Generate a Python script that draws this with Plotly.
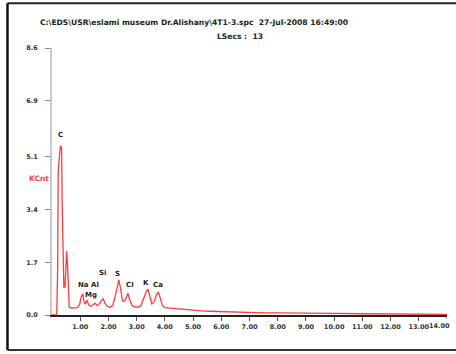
import plotly.graph_objects as go

# Spectrum (energy in keV, counts in KCnt)
energy_kev = [0.00, 0.15, 0.17, 0.20, 0.22, 0.24, 0.27, 0.30, 0.34, 0.36, 0.38, 0.40,
              0.42, 0.46, 0.50, 0.52, 0.55, 0.58, 0.61, 0.70, 0.80, 0.90, 0.98, 1.04,
              1.09, 1.13, 1.18, 1.24, 1.30, 1.38, 1.46, 1.52, 1.60, 1.68, 1.76, 1.81,
              1.88, 1.96, 2.05, 2.15, 2.24, 2.31, 2.37, 2.43, 2.50, 2.58, 2.64, 2.69,
              2.75, 2.84, 2.95, 3.05, 3.15, 3.25, 3.35, 3.40, 3.46, 3.54, 3.62, 3.70,
              3.77, 3.84, 3.92, 4.00, 4.20, 4.50, 4.80, 5.00, 5.30, 5.60, 5.90, 6.20,
              6.40, 6.60, 7.00, 7.50, 8.00, 8.50, 9.00, 9.50, 10.0, 11.0, 12.0, 13.0, 14.0]
counts_kcnt = [0.00, 0.00, 0.05, 1.50, 4.60, 5.00, 5.20, 5.45, 5.40, 3.60, 2.50, 2.30,
               0.90, 0.90, 1.70, 2.05, 1.60, 0.60, 0.25, 0.22, 0.22, 0.24, 0.35, 0.60,
               0.68, 0.45, 0.35, 0.48, 0.32, 0.28, 0.33, 0.38, 0.30, 0.36, 0.48, 0.52,
               0.38, 0.28, 0.25, 0.30, 0.60, 0.95, 1.13, 0.85, 0.45, 0.45, 0.62, 0.70,
               0.50, 0.30, 0.26, 0.25, 0.30, 0.55, 0.78, 0.83, 0.60, 0.35, 0.42, 0.65,
               0.74, 0.55, 0.30, 0.24, 0.22, 0.20, 0.17, 0.15, 0.13, 0.12, 0.11, 0.10,
               0.11, 0.09, 0.08, 0.07, 0.07, 0.06, 0.06, 0.05, 0.05, 0.04, 0.03, 0.03, 0.02]

# Element labels
elem_text = ["C", "Si", "S", "Na Al", "Mg", "Cl", "K", "Ca"]
elem_x = [0.30, 1.80, 2.33, 1.30, 1.39, 2.75, 3.32, 3.75]
elem_y = [5.80, 1.35, 1.33, 0.96, 0.66, 0.96, 1.04, 0.96]

x_tick_vals = [1, 2, 3, 4, 5, 6, 7, 8, 9, 10, 11, 12, 13]
x_tick_text = ["1.00", "2.00", "3.00", "4.00", "5.00", "6.00", "7.00", "8.00",
               "9.00", "10.00", "11.00", "12.00", "13.00"]
x_last_tick = 14
x_last_text = "14.00"
y_tick_vals = [0.0, 1.7, 3.4, 5.1, 6.9, 8.6]
y_tick_text = ["0.0", "1.7", "3.4", "5.1", "6.9", "8.6"]

title_line1 = "C:\\EDS\\USR\\eslami museum Dr.Alishany\\4T1-3.spc  27-Jul-2008 16:49:00"
title_line2 = "LSecs :  13"

fig = go.Figure()
fig.add_trace(go.Scatter(x=energy_kev, y=counts_kcnt, mode="lines",
                         line=dict(color="#ff3b3b", width=1.3), hoverinfo="skip"))

FONT = "DejaVu Sans"
for t, x, y in zip(elem_text, elem_x, elem_y):
    fig.add_annotation(x=x, y=y, text="<b>" + t + "</b>", showarrow=False,
                       font=dict(family=FONT, size=7, color="#222222"))

fig.add_annotation(xref="paper", yref="paper", x=0.36, y=1.12, text="<b>" + title_line1 + "</b>",
                   showarrow=False, font=dict(family=FONT, size=7.6, color="#222222"))
fig.add_annotation(xref="paper", yref="paper", x=0.475, y=1.068, text="<b>" + title_line2 + "</b>",
                   showarrow=False, font=dict(family=FONT, size=7.6, color="#222222"))
fig.add_annotation(xref="paper", yref="paper", x=-0.002, y=0.513, xanchor="right",
                   text="<b>KCnt</b>", showarrow=False,
                   font=dict(family=FONT, size=7.5, color="#ff3b3b"))
# last x tick label, kept inside the page
fig.add_annotation(x=x_last_tick, xref="x", yref="paper", y=0, yanchor="top", yshift=-5,
                   xanchor="right", xshift=5,
                   text="<b>" + x_last_text + "</b>", showarrow=False,
                   font=dict(family=FONT, size=6.5, color="#333333"))
fig.add_shape(type="line", xref="x", yref="paper", x0=x_last_tick, x1=x_last_tick, y0=0, y1=-0.015,
              line=dict(color="#555555", width=1))

# outer frame
fig.add_shape(type="line", xref="paper", yref="paper", x0=-0.1127, x1=-0.1127, y0=-0.131, y1=1.168,
              line=dict(color="#111111", width=2.5))
fig.add_shape(type="line", xref="paper", yref="paper", x0=-0.1127, x1=1.05, y0=1.168, y1=1.168,
              line=dict(color="#222222", width=2))
fig.add_shape(type="line", xref="paper", yref="paper", x0=-0.1127, x1=1.05, y0=-0.131, y1=-0.131,
              line=dict(color="#333333", width=2))

fig.update_layout(
    width=456, height=354,
    margin=dict(l=52, r=9, t=48, b=39),
    paper_bgcolor="white", plot_bgcolor="white",
    showlegend=False,
    xaxis=dict(range=[0, 14], tickvals=x_tick_vals, ticktext=x_tick_text,
               ticks="outside", ticklen=4, tickcolor="#555555", showgrid=False, zeroline=False,
               showline=True, linecolor="#222222", linewidth=2,
               tickfont=dict(family=FONT, size=6.5, color="#333333", weight="bold"), fixedrange=True),
    yaxis=dict(range=[0, 8.6], tickvals=y_tick_vals, ticktext=y_tick_text,
               ticks="outside", ticklen=5, tickcolor="#888888", showgrid=False, zeroline=False,
               showline=True, linecolor="#c8c8c8", linewidth=2, ticklabelstandoff=6,
               tickfont=dict(family=FONT, size=6.5, color="#333333", weight="bold"), fixedrange=True),
)
fig.write_html("out.html", config={"displayModeBar": False},
               post_script="document.body.style.margin='0';document.body.style.overflow='hidden';")
